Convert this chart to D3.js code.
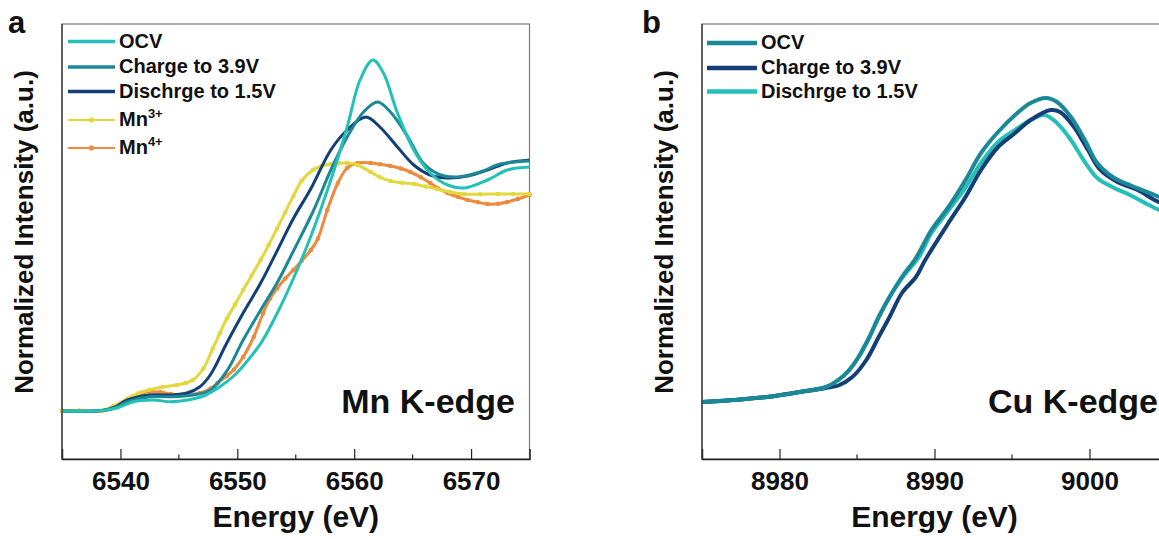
<!DOCTYPE html>
<head>
  <meta charset="utf-8">
  <script src="https://d3js.org/d3.v7.min.js"></script>
  <style>
    body { margin: 0; background: #fff; }
    svg text { font-family: "Liberation Sans", Arial, sans-serif; font-weight: bold; fill: #111; }
  </style>
</head>
<body>
<script>
  // panel a : Mn K-edge  [energy eV, normalized intensity]
  const mnOCV = [[6535,0],[6538.5,0.002],[6539.7,0.012],[6541.1,0.037],[6542.8,0.044],[6544.3,0.037],[6545.7,0.044],
    [6547.1,0.06],[6548.5,0.097],[6549.7,0.14],[6550.5,0.18],[6552,0.27],[6553.4,0.39],[6554.8,0.53],[6556.3,0.7],
    [6558,0.924],[6559.4,1.136],[6560.5,1.324],[6561.6,1.404],[6562.5,1.352],[6563.7,1.192],[6565.1,1.044],
    [6566.5,0.952],[6568,0.904],[6569.4,0.892],[6571.4,0.924],[6573.1,0.964],[6575,0.976]];
  const mnCharge = [[6535,0],[6538.5,0.002],[6539.7,0.015],[6540.6,0.037],[6542.5,0.057],[6544.3,0.057],[6546.2,0.064],
    [6547.7,0.084],[6549.1,0.16],[6550.5,0.284],[6552,0.404],[6553.4,0.512],[6554.8,0.64],[6556.5,0.8],[6558,0.964],
    [6559.4,1.096],[6560.8,1.196],[6562,1.236],[6563.1,1.196],[6564.6,1.096],[6565.9,0.992],[6567.4,0.944],
    [6568.8,0.936],[6570.8,0.956],[6572.5,0.988],[6575,1.0]];
  const mnDischarge = [[6535,0],[6538.5,0.002],[6539.5,0.015],[6540.6,0.044],[6542.5,0.064],[6544.3,0.064],[6545.7,0.072],
    [6546.8,0.097],[6547.7,0.145],[6549.1,0.272],[6550.5,0.392],[6552,0.512],[6553.4,0.64],[6554.8,0.77],[6556.3,0.89],
    [6558,1.044],[6559.4,1.124],[6561,1.176],[6562.2,1.136],[6563.7,1.056],[6565.1,0.984],[6566.5,0.944],
    [6568,0.932],[6569.7,0.94],[6571.4,0.964],[6573.1,0.992],[6575,1.004]];
  const mn3 = [[6535,0],[6536.5,0.001],[6538.5,0.003],[6539.4,0.02],[6540.6,0.05],[6541.5,0.07],[6542.5,0.085],[6543.6,0.096],
    [6544.8,0.104],[6545.6,0.112],[6546.2,0.124],[6547.1,0.17],[6547.9,0.25],[6548.5,0.31],[6549.1,0.37],[6549.8,0.425],
    [6550.5,0.484],[6551.2,0.54],[6552,0.604],[6552.7,0.665],[6553.4,0.73],[6554.1,0.795],[6554.8,0.86],[6555.5,0.92],
    [6556.5,0.965],[6557.2,0.98],[6558,0.988],[6558.7,0.991],[6559.4,0.992],[6560.3,0.984],[6561.4,0.956],[6562.2,0.935],
    [6563.1,0.92],[6564.1,0.913],[6565.1,0.908],[6566.1,0.898],[6567.1,0.888],[6568.2,0.876],[6569.4,0.868],
    [6570.8,0.867],[6572.3,0.868],[6573.6,0.868],[6575,0.868]];
  const mn4 = [[6535,0],[6536.5,0.001],[6538.5,0.002],[6539.3,0.012],[6540,0.03],[6541.1,0.06],[6541.8,0.072],[6542.5,0.077],
    [6543.4,0.076],[6544.3,0.068],[6545.7,0.066],[6546.8,0.072],[6547.7,0.09],[6548.3,0.112],[6549.1,0.14],[6549.7,0.165],
    [6550.5,0.216],[6551.4,0.296],[6552.2,0.39],[6552.8,0.45],[6553.4,0.49],[6554.1,0.53],[6554.8,0.564],[6555.5,0.6],
    [6556.3,0.644],[6556.9,0.69],[6557.7,0.804],[6558.6,0.912],[6559.4,0.972],[6560.3,0.992],[6561.4,0.992],
    [6562.2,0.987],[6563.1,0.98],[6564,0.97],[6564.8,0.956],[6565.7,0.935],[6566.5,0.912],[6567.2,0.89],[6568,0.872],
    [6568.9,0.856],[6569.7,0.844],[6570.6,0.835],[6571.4,0.828],[6572.3,0.829],[6573.1,0.836],[6574,0.848],[6575,0.864]];

  // panel b : Cu K-edge
  const cuOCV = [[8975,0.004],[8977,0.012],[8979.2,0.024],[8981.3,0.044],[8983,0.064],[8983.8,0.092],[8984.5,0.132],
    [8985.1,0.184],[8985.8,0.264],[8986.4,0.344],[8987.1,0.424],[8987.9,0.504],[8988.8,0.58],[8989.8,0.692],
    [8990.9,0.784],[8992,0.892],[8993,1.0],[8994.1,1.084],[8995.2,1.152],[8996.2,1.2],[8997.2,1.22],[8997.9,1.204],
    [8998.8,1.144],[8999.7,1.052],[9000.5,0.96],[9001.6,0.9],[9002.6,0.872],[9004.2,0.832],[9005,0.81]];
  const cuCharge = [[8975,0.004],[8977,0.012],[8979.2,0.024],[8981.3,0.044],[8983,0.06],[8983.8,0.07],[8984.7,0.104],
    [8985.6,0.172],[8986.4,0.264],[8987.1,0.344],[8987.9,0.44],[8988.8,0.504],[8989.4,0.572],[8990.9,0.72],
    [8992,0.824],[8993,0.932],[8994.1,1.024],[8995.2,1.08],[8996.2,1.132],[8997.5,1.172],[8998.1,1.164],
    [8999,1.104],[8999.9,1.012],[9000.7,0.932],[9001.8,0.884],[9003.1,0.852],[9004.2,0.812],[9005,0.79]];
  const cuDischarge = [[8975,0.004],[8977,0.012],[8979.2,0.024],[8981.3,0.044],[8983,0.064],[8983.8,0.092],[8984.5,0.132],
    [8985.1,0.184],[8985.8,0.264],[8986.4,0.344],[8987.1,0.424],[8987.9,0.5],[8989,0.584],[8989.8,0.68],
    [8990.9,0.77],[8992,0.862],[8993,0.96],[8994.1,1.044],[8995.2,1.092],[8996.2,1.132],[8997.1,1.152],[8997.9,1.12],
    [8998.8,1.052],[8999.7,0.964],[9000.5,0.9],[9001.6,0.86],[9002.6,0.832],[9004.2,0.78],[9005,0.76]];

  const mnTicks = [6540, 6550, 6560, 6570];
  const mnMinor = [6545, 6555, 6565];
  const cuTicks = [8980, 8990, 9000];
  const cuMinor = [8985, 8995];

  const lightTeal = "#22c0b6", teal = "#1b8898", navy = "#123f75", yellow = "#e2d83c", orange = "#ee8a3c";

  const svg = d3.select("body").append("svg").attr("width", 1159).attr("height", 539);

  function panel(p) {
    const x = d3.scaleLinear().domain(p.xDomain).range([p.left, p.right]);
    const y = d3.scaleLinear().domain(p.yDomain).range([459, 24]);
    const g = svg.append("g");

    // frame
    g.append("rect").attr("x", p.left).attr("y", 24).attr("width", p.right - p.left).attr("height", 435)
      .attr("fill", "none").attr("stroke", "#7a7a7a").attr("stroke-width", 1.2);

    const line = d3.line().x(d => x(d[0])).y(d => y(d[1])).curve(d3.curveCatmullRom.alpha(0.5));
    p.series.slice().reverse().forEach(s => {
      g.append("path").datum(s.data).attr("d", line).attr("fill", "none")
        .attr("stroke", s.color).attr("stroke-width", s.width).attr("stroke-linejoin", "round");
      if (s.marker) {
        g.selectAll(null).data(s.data).enter().append("circle")
          .attr("cx", d => x(d[0])).attr("cy", d => y(d[1])).attr("r", 2.3).attr("fill", s.color);
      }
    });

    // bottom axis, ticks inside
    const ax = g.append("g").attr("transform", "translate(0,459)");
    ax.call(d3.axisBottom(x).tickValues(p.ticks).tickSize(-10).tickFormat(d3.format("d")));
    ax.select(".domain").attr("stroke", "#222").attr("stroke-width", 1.5);
    ax.selectAll(".tick line").attr("stroke", "#222").attr("stroke-width", 1.2);
    ax.selectAll(".tick text").attr("y", 31).attr("dy", 0)
      .style("font-size", "26px").style("font-family", "Liberation Sans, Arial, sans-serif")
      .style("font-weight", "bold").attr("fill", "#111");
    ax.selectAll(".minor").data(p.minor).enter().append("line").attr("class", "minor")
      .attr("x1", d => x(d)).attr("x2", d => x(d)).attr("y1", 0).attr("y2", -4.5)
      .attr("stroke", "#222").attr("stroke-width", 1.2);
    g.append("line").attr("x1", p.left).attr("x2", p.left).attr("y1", 24).attr("y2", 459)
      .attr("stroke", "#333").attr("stroke-width", 1.3);

    g.append("text").attr("x", (p.left + p.right) / 2).attr("y", 527).attr("text-anchor", "middle")
      .style("font-size", "30px").text("Energy (eV)");
    g.append("text").attr("transform", `translate(${p.left - 29},232) rotate(-90)`).attr("text-anchor", "middle")
      .style("font-size", "26px").text("Normalized Intensity (a.u.)");
    g.append("text").attr("x", p.letterX).attr("y", 33).style("font-size", "31px").text(p.letter);
    g.append("text").attr("x", p.edgeX).attr("y", 413).attr("text-anchor", "end")
      .style("font-size", "34px").text(p.edge);

    // legend
    p.series.forEach((s, i) => {
      const ly = p.legY[i];
      g.append("line").attr("x1", p.legX).attr("x2", p.legX + p.legLen).attr("y1", ly).attr("y2", ly)
        .attr("stroke", s.color).attr("stroke-width", s.marker ? 2 : s.legWidth);
      if (s.marker) {
        g.append("circle").attr("cx", p.legX + p.legLen / 2).attr("cy", ly).attr("r", 2.6).attr("fill", s.color);
      }
      const t = g.append("text").attr("x", p.legX + p.legLen + 4).attr("y", ly + 6).style("font-size", "20px");
      t.append("tspan").text(s.name);
      if (s.sup) t.append("tspan").attr("dy", -8).style("font-size", "13px").text(s.sup);
    });
  }

  panel({
    xDomain: [6535, 6575], left: 62, right: 529.5, yDomain: [-0.192, 1.548],
    ticks: mnTicks, minor: mnMinor, letter: "a", letterX: 8, edge: "Mn K-edge", edgeX: 515,
    legX: 68, legLen: 47, legY: [41.5, 67, 91.5, 120, 148],
    series: [
      {name: "OCV", data: mnOCV, color: lightTeal, width: 3, legWidth: 3.5},
      {name: "Charge to 3.9V", data: mnCharge, color: teal, width: 3, legWidth: 3.5},
      {name: "Dischrge to 1.5V", data: mnDischarge, color: navy, width: 3, legWidth: 3.5},
      {name: "Mn", sup: "3+", data: mn3, color: yellow, width: 3, marker: true},
      {name: "Mn", sup: "4+", data: mn4, color: orange, width: 3, marker: true}
    ]
  });

  panel({
    xDomain: [8975, 9005], left: 702, right: 1167, yDomain: [-0.224, 1.516],
    ticks: cuTicks, minor: cuMinor, letter: "b", letterX: 642, edge: "Cu K-edge", edgeX: 1158,
    legX: 707, legLen: 50, legY: [43, 68, 91.5],
    series: [
      {name: "OCV", data: cuOCV, color: teal, width: 4, legWidth: 4.5},
      {name: "Charge to 3.9V", data: cuCharge, color: navy, width: 4, legWidth: 4.5},
      {name: "Dischrge to 1.5V", data: cuDischarge, color: lightTeal, width: 4, legWidth: 4.5}
    ]
  });
</script>
</body>
